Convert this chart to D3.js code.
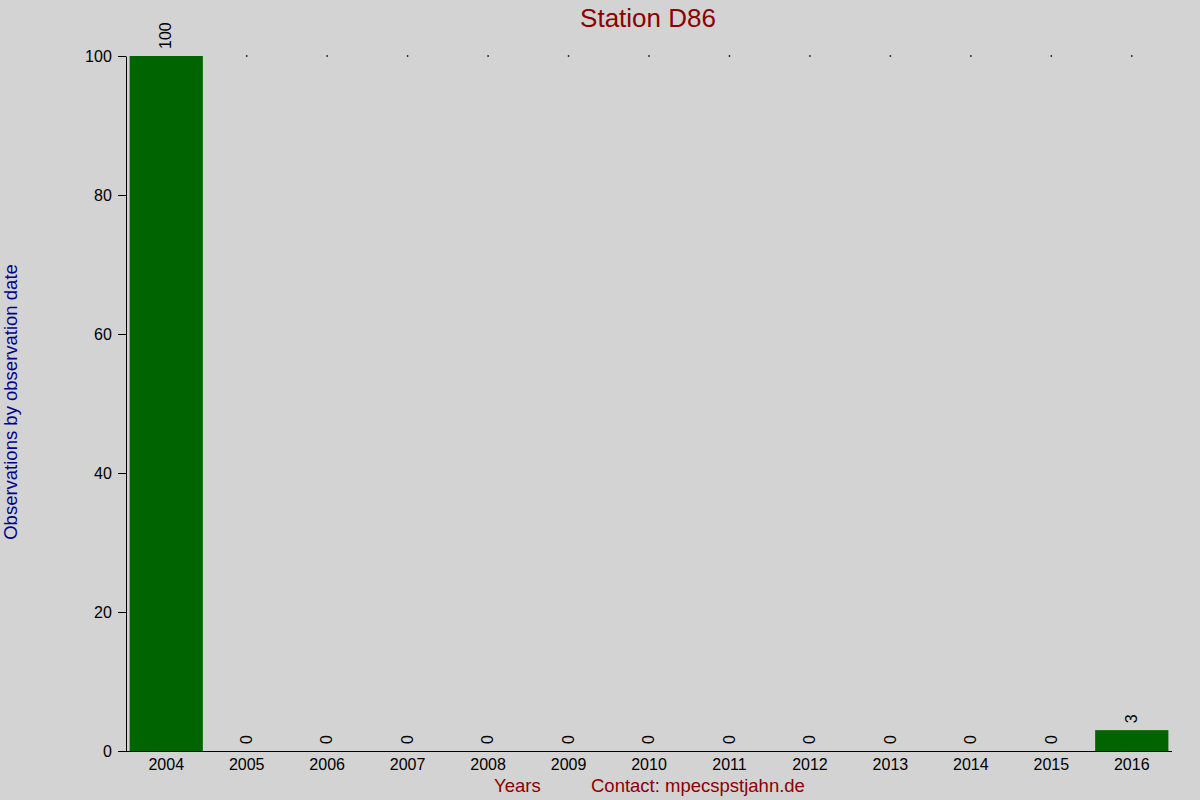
<!DOCTYPE html>
<html>
<head>
<meta charset="utf-8">
<script src="https://cdn.jsdelivr.net/npm/d3@7"></script>
<style>
  body { margin: 0; background: #d3d3d3; }
  svg { display: block; font-family: "Liberation Sans", Arial, sans-serif; }
</style>
</head>
<body>
<div id="chart"></div>
<script>
// Daten
const years = ["2004", "2005", "2006", "2007", "2008", "2009", "2010",
  "2011", "2012", "2013", "2014", "2015", "2016"];
const counts = [100, 0, 0, 0, 0, 0, 0, 0, 0, 0, 0, 0, 3];
const yTicks = [0, 20, 40, 60, 80, 100];

const width = 1200;
const height = 800;
const margin = { top: 56, right: 28, bottom: 49, left: 126 };

const svg = d3
  .select("#chart")
  .append("svg")
  .attr("width", width)
  .attr("height", height);

svg.append("rect")
  .attr("width", width)
  .attr("height", height)
  .attr("fill", "#d3d3d3");

const x = d3
  .scaleBand()
  .domain(years)
  .range([margin.left, width - margin.right])
  .paddingInner(0.09)
  .paddingOuter(0.045);

const y = d3
  .scaleLinear()
  .domain([0, 100])
  .range([height - margin.bottom, margin.top]);

// kleine Punkte oben (vom Balken verdeckt, wenn dieser bis oben reicht)
svg.selectAll(".dot")
  .data(years.filter((d, i) => counts[i] < 100))
  .enter()
  .append("rect")
  .attr("x", (d) => x(d) + x.bandwidth() / 2 - 0.75)
  .attr("y", y(100) - 0.75)
  .attr("width", 1.5)
  .attr("height", 1.5)
  .attr("fill", "#000");

// Balken
svg.selectAll(".bar")
  .data(years)
  .enter()
  .append("rect")
  .attr("class", "bar")
  .attr("x", (d) => x(d))
  .attr("width", x.bandwidth())
  .attr("y", (d, i) => y(counts[i]))
  .attr("height", (d, i) => y(0) - y(counts[i]))
  .attr("fill", "#006400");

// Werte
svg.selectAll(".val")
  .data(years)
  .enter()
  .append("text")
  .attr("transform", (d, i) =>
    `translate(${x(d) + x.bandwidth() / 2 + 1},${y(counts[i]) - 7}) rotate(-90)`)
  .attr("dominant-baseline", "middle")
  .attr("font-size", 16)
  .attr("fill", "#000")
  .text((d, i) => counts[i]);

// Y-Achse
const yAxis = svg.append("g")
  .attr("transform", `translate(${margin.left},0)`)
  .call(d3.axisLeft(y).tickValues(yTicks).tickSize(8).tickSizeOuter(0));
yAxis.select(".domain").attr("stroke", "#000");
yAxis.selectAll("text")
  .attr("font-size", 16)
  .attr("font-family", "Liberation Sans, Arial, sans-serif")
  .attr("dx", "-0.2em")
  .attr("fill", "#000");

// X-Achse
const xAxis = svg.append("g")
  .attr("transform", `translate(0,${y(0)})`)
  .call(d3.axisBottom(x).tickSize(0).tickSizeOuter(0));
xAxis.select(".domain")
  .attr("d", `M${margin.left - 8},0.5H${width - margin.right}`)
  .attr("stroke", "#000");
xAxis.selectAll("text")
  .attr("font-size", 16)
  .attr("font-family", "Liberation Sans, Arial, sans-serif")
  .attr("dy", "1.0em")
  .attr("fill", "#000");

// Titel und Beschriftungen
svg.append("text")
  .attr("x", 648)
  .attr("y", 27)
  .attr("text-anchor", "middle")
  .attr("font-size", 26)
  .attr("fill", "#8b0000")
  .text("Station D86");

svg.append("text")
  .attr("x", 494)
  .attr("y", 792)
  .attr("font-size", 18.5)
  .attr("fill", "#8b0000")
  .text("Years");

svg.append("text")
  .attr("x", 591)
  .attr("y", 792)
  .attr("font-size", 18.5)
  .attr("fill", "#8b0000")
  .text("Contact: mpecspstjahn.de");

svg.append("text")
  .attr("transform", "translate(17,402) rotate(-90)")
  .attr("text-anchor", "middle")
  .attr("font-size", 18.5)
  .attr("fill", "#00008b")
  .text("Observations by observation date");
</script>
</body>
</html>
